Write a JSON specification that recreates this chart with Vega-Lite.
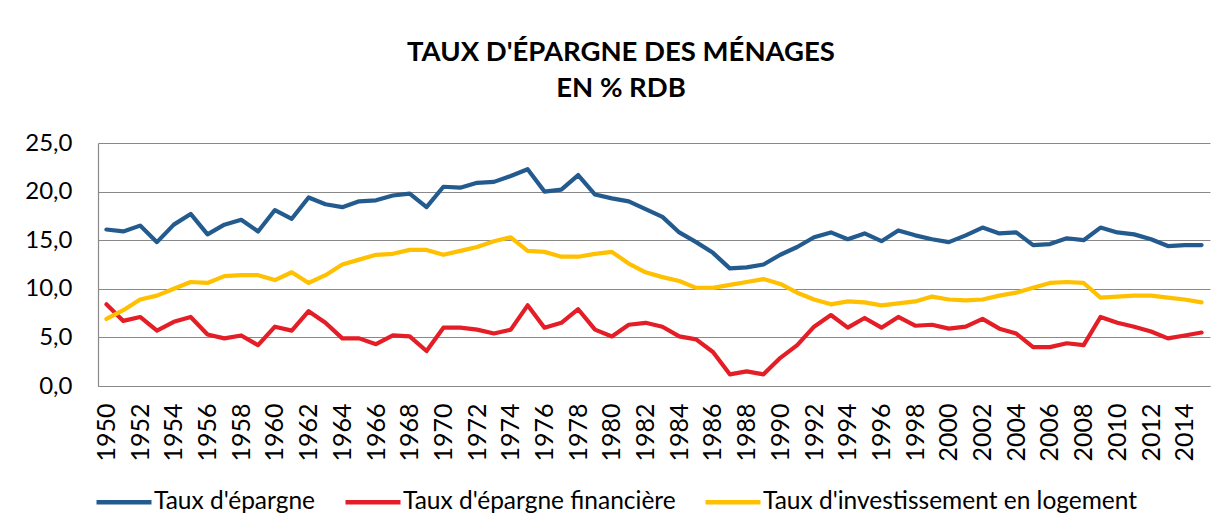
{
  "$schema": "https://vega.github.io/schema/vega-lite/v6.json",
  "width": 1112,
  "height": 243,
  "autosize": {"type": "none"},
  "padding": {"left": 98, "top": 143, "right": 18, "bottom": 144},
  "background": "white",
  "title": {
    "text": ["TAUX D'ÉPARGNE DES MÉNAGES", "EN % RDB"],
    "font": "Lato",
    "fontSize": 27.5,
    "fontWeight": "bold",
    "color": "#000000",
    "anchor": "middle",
    "frame": "group",
    "dx": -33,
    "lineHeight": 36.6,
    "offset": 28
  },
  "data": {
    "values": [
      {"annee": 1950, "serie": "Taux d'épargne", "taux": 16.1},
      {"annee": 1951, "serie": "Taux d'épargne", "taux": 15.9},
      {"annee": 1952, "serie": "Taux d'épargne", "taux": 16.5},
      {"annee": 1953, "serie": "Taux d'épargne", "taux": 14.8},
      {"annee": 1954, "serie": "Taux d'épargne", "taux": 16.6},
      {"annee": 1955, "serie": "Taux d'épargne", "taux": 17.7},
      {"annee": 1956, "serie": "Taux d'épargne", "taux": 15.6},
      {"annee": 1957, "serie": "Taux d'épargne", "taux": 16.6},
      {"annee": 1958, "serie": "Taux d'épargne", "taux": 17.1},
      {"annee": 1959, "serie": "Taux d'épargne", "taux": 15.9},
      {"annee": 1960, "serie": "Taux d'épargne", "taux": 18.1},
      {"annee": 1961, "serie": "Taux d'épargne", "taux": 17.2},
      {"annee": 1962, "serie": "Taux d'épargne", "taux": 19.4},
      {"annee": 1963, "serie": "Taux d'épargne", "taux": 18.7},
      {"annee": 1964, "serie": "Taux d'épargne", "taux": 18.4},
      {"annee": 1965, "serie": "Taux d'épargne", "taux": 19.0},
      {"annee": 1966, "serie": "Taux d'épargne", "taux": 19.1},
      {"annee": 1967, "serie": "Taux d'épargne", "taux": 19.6},
      {"annee": 1968, "serie": "Taux d'épargne", "taux": 19.8},
      {"annee": 1969, "serie": "Taux d'épargne", "taux": 18.4},
      {"annee": 1970, "serie": "Taux d'épargne", "taux": 20.5},
      {"annee": 1971, "serie": "Taux d'épargne", "taux": 20.4},
      {"annee": 1972, "serie": "Taux d'épargne", "taux": 20.9},
      {"annee": 1973, "serie": "Taux d'épargne", "taux": 21.0},
      {"annee": 1974, "serie": "Taux d'épargne", "taux": 21.6},
      {"annee": 1975, "serie": "Taux d'épargne", "taux": 22.3},
      {"annee": 1976, "serie": "Taux d'épargne", "taux": 20.0},
      {"annee": 1977, "serie": "Taux d'épargne", "taux": 20.2},
      {"annee": 1978, "serie": "Taux d'épargne", "taux": 21.7},
      {"annee": 1979, "serie": "Taux d'épargne", "taux": 19.7},
      {"annee": 1980, "serie": "Taux d'épargne", "taux": 19.3},
      {"annee": 1981, "serie": "Taux d'épargne", "taux": 19.0},
      {"annee": 1982, "serie": "Taux d'épargne", "taux": 18.2},
      {"annee": 1983, "serie": "Taux d'épargne", "taux": 17.4},
      {"annee": 1984, "serie": "Taux d'épargne", "taux": 15.8},
      {"annee": 1985, "serie": "Taux d'épargne", "taux": 14.8},
      {"annee": 1986, "serie": "Taux d'épargne", "taux": 13.7},
      {"annee": 1987, "serie": "Taux d'épargne", "taux": 12.1},
      {"annee": 1988, "serie": "Taux d'épargne", "taux": 12.2},
      {"annee": 1989, "serie": "Taux d'épargne", "taux": 12.5},
      {"annee": 1990, "serie": "Taux d'épargne", "taux": 13.5},
      {"annee": 1991, "serie": "Taux d'épargne", "taux": 14.3},
      {"annee": 1992, "serie": "Taux d'épargne", "taux": 15.3},
      {"annee": 1993, "serie": "Taux d'épargne", "taux": 15.8},
      {"annee": 1994, "serie": "Taux d'épargne", "taux": 15.1},
      {"annee": 1995, "serie": "Taux d'épargne", "taux": 15.7},
      {"annee": 1996, "serie": "Taux d'épargne", "taux": 14.9},
      {"annee": 1997, "serie": "Taux d'épargne", "taux": 16.0},
      {"annee": 1998, "serie": "Taux d'épargne", "taux": 15.5},
      {"annee": 1999, "serie": "Taux d'épargne", "taux": 15.1},
      {"annee": 2000, "serie": "Taux d'épargne", "taux": 14.8},
      {"annee": 2001, "serie": "Taux d'épargne", "taux": 15.5},
      {"annee": 2002, "serie": "Taux d'épargne", "taux": 16.3},
      {"annee": 2003, "serie": "Taux d'épargne", "taux": 15.7},
      {"annee": 2004, "serie": "Taux d'épargne", "taux": 15.8},
      {"annee": 2005, "serie": "Taux d'épargne", "taux": 14.5},
      {"annee": 2006, "serie": "Taux d'épargne", "taux": 14.6},
      {"annee": 2007, "serie": "Taux d'épargne", "taux": 15.2},
      {"annee": 2008, "serie": "Taux d'épargne", "taux": 15.0},
      {"annee": 2009, "serie": "Taux d'épargne", "taux": 16.3},
      {"annee": 2010, "serie": "Taux d'épargne", "taux": 15.8},
      {"annee": 2011, "serie": "Taux d'épargne", "taux": 15.6},
      {"annee": 2012, "serie": "Taux d'épargne", "taux": 15.1},
      {"annee": 2013, "serie": "Taux d'épargne", "taux": 14.4},
      {"annee": 2014, "serie": "Taux d'épargne", "taux": 14.5},
      {"annee": 2015, "serie": "Taux d'épargne", "taux": 14.5},
      {"annee": 1950, "serie": "Taux d'épargne financière", "taux": 8.4},
      {"annee": 1951, "serie": "Taux d'épargne financière", "taux": 6.7},
      {"annee": 1952, "serie": "Taux d'épargne financière", "taux": 7.1},
      {"annee": 1953, "serie": "Taux d'épargne financière", "taux": 5.7},
      {"annee": 1954, "serie": "Taux d'épargne financière", "taux": 6.6},
      {"annee": 1955, "serie": "Taux d'épargne financière", "taux": 7.1},
      {"annee": 1956, "serie": "Taux d'épargne financière", "taux": 5.3},
      {"annee": 1957, "serie": "Taux d'épargne financière", "taux": 4.9},
      {"annee": 1958, "serie": "Taux d'épargne financière", "taux": 5.2},
      {"annee": 1959, "serie": "Taux d'épargne financière", "taux": 4.2},
      {"annee": 1960, "serie": "Taux d'épargne financière", "taux": 6.1},
      {"annee": 1961, "serie": "Taux d'épargne financière", "taux": 5.7},
      {"annee": 1962, "serie": "Taux d'épargne financière", "taux": 7.7},
      {"annee": 1963, "serie": "Taux d'épargne financière", "taux": 6.5},
      {"annee": 1964, "serie": "Taux d'épargne financière", "taux": 4.9},
      {"annee": 1965, "serie": "Taux d'épargne financière", "taux": 4.9},
      {"annee": 1966, "serie": "Taux d'épargne financière", "taux": 4.3},
      {"annee": 1967, "serie": "Taux d'épargne financière", "taux": 5.2},
      {"annee": 1968, "serie": "Taux d'épargne financière", "taux": 5.1},
      {"annee": 1969, "serie": "Taux d'épargne financière", "taux": 3.6},
      {"annee": 1970, "serie": "Taux d'épargne financière", "taux": 6.0},
      {"annee": 1971, "serie": "Taux d'épargne financière", "taux": 6.0},
      {"annee": 1972, "serie": "Taux d'épargne financière", "taux": 5.8},
      {"annee": 1973, "serie": "Taux d'épargne financière", "taux": 5.4},
      {"annee": 1974, "serie": "Taux d'épargne financière", "taux": 5.8},
      {"annee": 1975, "serie": "Taux d'épargne financière", "taux": 8.3},
      {"annee": 1976, "serie": "Taux d'épargne financière", "taux": 6.0},
      {"annee": 1977, "serie": "Taux d'épargne financière", "taux": 6.5},
      {"annee": 1978, "serie": "Taux d'épargne financière", "taux": 7.9},
      {"annee": 1979, "serie": "Taux d'épargne financière", "taux": 5.8},
      {"annee": 1980, "serie": "Taux d'épargne financière", "taux": 5.1},
      {"annee": 1981, "serie": "Taux d'épargne financière", "taux": 6.3},
      {"annee": 1982, "serie": "Taux d'épargne financière", "taux": 6.5},
      {"annee": 1983, "serie": "Taux d'épargne financière", "taux": 6.1},
      {"annee": 1984, "serie": "Taux d'épargne financière", "taux": 5.1},
      {"annee": 1985, "serie": "Taux d'épargne financière", "taux": 4.8},
      {"annee": 1986, "serie": "Taux d'épargne financière", "taux": 3.5},
      {"annee": 1987, "serie": "Taux d'épargne financière", "taux": 1.2},
      {"annee": 1988, "serie": "Taux d'épargne financière", "taux": 1.5},
      {"annee": 1989, "serie": "Taux d'épargne financière", "taux": 1.2},
      {"annee": 1990, "serie": "Taux d'épargne financière", "taux": 2.9},
      {"annee": 1991, "serie": "Taux d'épargne financière", "taux": 4.2},
      {"annee": 1992, "serie": "Taux d'épargne financière", "taux": 6.1},
      {"annee": 1993, "serie": "Taux d'épargne financière", "taux": 7.3},
      {"annee": 1994, "serie": "Taux d'épargne financière", "taux": 6.0},
      {"annee": 1995, "serie": "Taux d'épargne financière", "taux": 7.0},
      {"annee": 1996, "serie": "Taux d'épargne financière", "taux": 6.0},
      {"annee": 1997, "serie": "Taux d'épargne financière", "taux": 7.1},
      {"annee": 1998, "serie": "Taux d'épargne financière", "taux": 6.2},
      {"annee": 1999, "serie": "Taux d'épargne financière", "taux": 6.3},
      {"annee": 2000, "serie": "Taux d'épargne financière", "taux": 5.9},
      {"annee": 2001, "serie": "Taux d'épargne financière", "taux": 6.1},
      {"annee": 2002, "serie": "Taux d'épargne financière", "taux": 6.9},
      {"annee": 2003, "serie": "Taux d'épargne financière", "taux": 5.9},
      {"annee": 2004, "serie": "Taux d'épargne financière", "taux": 5.4},
      {"annee": 2005, "serie": "Taux d'épargne financière", "taux": 4.0},
      {"annee": 2006, "serie": "Taux d'épargne financière", "taux": 4.0},
      {"annee": 2007, "serie": "Taux d'épargne financière", "taux": 4.4},
      {"annee": 2008, "serie": "Taux d'épargne financière", "taux": 4.2},
      {"annee": 2009, "serie": "Taux d'épargne financière", "taux": 7.1},
      {"annee": 2010, "serie": "Taux d'épargne financière", "taux": 6.5},
      {"annee": 2011, "serie": "Taux d'épargne financière", "taux": 6.1},
      {"annee": 2012, "serie": "Taux d'épargne financière", "taux": 5.6},
      {"annee": 2013, "serie": "Taux d'épargne financière", "taux": 4.9},
      {"annee": 2014, "serie": "Taux d'épargne financière", "taux": 5.2},
      {"annee": 2015, "serie": "Taux d'épargne financière", "taux": 5.5},
      {"annee": 1950, "serie": "Taux d'investissement en logement", "taux": 6.9},
      {"annee": 1951, "serie": "Taux d'investissement en logement", "taux": 7.8},
      {"annee": 1952, "serie": "Taux d'investissement en logement", "taux": 8.9},
      {"annee": 1953, "serie": "Taux d'investissement en logement", "taux": 9.3},
      {"annee": 1954, "serie": "Taux d'investissement en logement", "taux": 10.0},
      {"annee": 1955, "serie": "Taux d'investissement en logement", "taux": 10.7},
      {"annee": 1956, "serie": "Taux d'investissement en logement", "taux": 10.6},
      {"annee": 1957, "serie": "Taux d'investissement en logement", "taux": 11.3},
      {"annee": 1958, "serie": "Taux d'investissement en logement", "taux": 11.4},
      {"annee": 1959, "serie": "Taux d'investissement en logement", "taux": 11.4},
      {"annee": 1960, "serie": "Taux d'investissement en logement", "taux": 10.9},
      {"annee": 1961, "serie": "Taux d'investissement en logement", "taux": 11.7},
      {"annee": 1962, "serie": "Taux d'investissement en logement", "taux": 10.6},
      {"annee": 1963, "serie": "Taux d'investissement en logement", "taux": 11.4},
      {"annee": 1964, "serie": "Taux d'investissement en logement", "taux": 12.5},
      {"annee": 1965, "serie": "Taux d'investissement en logement", "taux": 13.0},
      {"annee": 1966, "serie": "Taux d'investissement en logement", "taux": 13.5},
      {"annee": 1967, "serie": "Taux d'investissement en logement", "taux": 13.6},
      {"annee": 1968, "serie": "Taux d'investissement en logement", "taux": 14.0},
      {"annee": 1969, "serie": "Taux d'investissement en logement", "taux": 14.0},
      {"annee": 1970, "serie": "Taux d'investissement en logement", "taux": 13.5},
      {"annee": 1971, "serie": "Taux d'investissement en logement", "taux": 13.9},
      {"annee": 1972, "serie": "Taux d'investissement en logement", "taux": 14.3},
      {"annee": 1973, "serie": "Taux d'investissement en logement", "taux": 14.9},
      {"annee": 1974, "serie": "Taux d'investissement en logement", "taux": 15.3},
      {"annee": 1975, "serie": "Taux d'investissement en logement", "taux": 13.9},
      {"annee": 1976, "serie": "Taux d'investissement en logement", "taux": 13.8},
      {"annee": 1977, "serie": "Taux d'investissement en logement", "taux": 13.3},
      {"annee": 1978, "serie": "Taux d'investissement en logement", "taux": 13.3},
      {"annee": 1979, "serie": "Taux d'investissement en logement", "taux": 13.6},
      {"annee": 1980, "serie": "Taux d'investissement en logement", "taux": 13.8},
      {"annee": 1981, "serie": "Taux d'investissement en logement", "taux": 12.6},
      {"annee": 1982, "serie": "Taux d'investissement en logement", "taux": 11.7},
      {"annee": 1983, "serie": "Taux d'investissement en logement", "taux": 11.2},
      {"annee": 1984, "serie": "Taux d'investissement en logement", "taux": 10.8},
      {"annee": 1985, "serie": "Taux d'investissement en logement", "taux": 10.1},
      {"annee": 1986, "serie": "Taux d'investissement en logement", "taux": 10.1},
      {"annee": 1987, "serie": "Taux d'investissement en logement", "taux": 10.4},
      {"annee": 1988, "serie": "Taux d'investissement en logement", "taux": 10.7},
      {"annee": 1989, "serie": "Taux d'investissement en logement", "taux": 11.0},
      {"annee": 1990, "serie": "Taux d'investissement en logement", "taux": 10.5},
      {"annee": 1991, "serie": "Taux d'investissement en logement", "taux": 9.6},
      {"annee": 1992, "serie": "Taux d'investissement en logement", "taux": 8.9},
      {"annee": 1993, "serie": "Taux d'investissement en logement", "taux": 8.4},
      {"annee": 1994, "serie": "Taux d'investissement en logement", "taux": 8.7},
      {"annee": 1995, "serie": "Taux d'investissement en logement", "taux": 8.6},
      {"annee": 1996, "serie": "Taux d'investissement en logement", "taux": 8.3},
      {"annee": 1997, "serie": "Taux d'investissement en logement", "taux": 8.5},
      {"annee": 1998, "serie": "Taux d'investissement en logement", "taux": 8.7},
      {"annee": 1999, "serie": "Taux d'investissement en logement", "taux": 9.2},
      {"annee": 2000, "serie": "Taux d'investissement en logement", "taux": 8.9},
      {"annee": 2001, "serie": "Taux d'investissement en logement", "taux": 8.8},
      {"annee": 2002, "serie": "Taux d'investissement en logement", "taux": 8.9},
      {"annee": 2003, "serie": "Taux d'investissement en logement", "taux": 9.3},
      {"annee": 2004, "serie": "Taux d'investissement en logement", "taux": 9.6},
      {"annee": 2005, "serie": "Taux d'investissement en logement", "taux": 10.1},
      {"annee": 2006, "serie": "Taux d'investissement en logement", "taux": 10.6},
      {"annee": 2007, "serie": "Taux d'investissement en logement", "taux": 10.7},
      {"annee": 2008, "serie": "Taux d'investissement en logement", "taux": 10.6},
      {"annee": 2009, "serie": "Taux d'investissement en logement", "taux": 9.1},
      {"annee": 2010, "serie": "Taux d'investissement en logement", "taux": 9.2},
      {"annee": 2011, "serie": "Taux d'investissement en logement", "taux": 9.3},
      {"annee": 2012, "serie": "Taux d'investissement en logement", "taux": 9.3},
      {"annee": 2013, "serie": "Taux d'investissement en logement", "taux": 9.1},
      {"annee": 2014, "serie": "Taux d'investissement en logement", "taux": 8.9},
      {"annee": 2015, "serie": "Taux d'investissement en logement", "taux": 8.6}
    ]
  },
  "mark": {"type": "line", "strokeWidth": 4.2, "strokeCap": "round", "strokeJoin": "round"},
  "encoding": {
    "x": {
      "field": "annee",
      "type": "quantitative",
      "scale": {"domain": [1949.5, 2015.5], "nice": false, "zero": false},
      "axis": {
        "title": null,
        "values": [1950, 1952, 1954, 1956, 1958, 1960, 1962, 1964, 1966, 1968, 1970, 1972, 1974, 1976, 1978, 1980, 1982, 1984, 1986, 1988, 1990, 1992, 1994, 1996, 1998, 2000, 2002, 2004, 2006, 2008, 2010, 2012, 2014],
        "format": "d",
        "labelAngle": -90,
        "labelPadding": 17,
        "labelFont": "Lato",
        "labelFontSize": 25,
        "labelColor": "#000000",
        "labelFlush": false,
        "labelOverlap": false,
        "ticks": false,
        "grid": false,
        "domainColor": "#898989",
        "domainWidth": 1.2
      }
    },
    "y": {
      "field": "taux",
      "type": "quantitative",
      "scale": {"domain": [0, 25], "nice": false},
      "axis": {
        "title": null,
        "values": [0, 5, 10, 15, 20, 25],
        "labelExpr": "replace(format(datum.value, '.1f'), '.', ',')",
        "labelPadding": 26,
        "labelFont": "Lato",
        "labelFontSize": 24,
        "labelColor": "#000000",
        "ticks": false,
        "grid": true,
        "gridColor": "#898989",
        "gridWidth": 1.2,
        "domainColor": "#898989",
        "domainWidth": 1.2
      }
    },
    "color": {
      "field": "serie",
      "type": "nominal",
      "scale": {
        "domain": ["Taux d'épargne", "Taux d'épargne financière", "Taux d'investissement en logement"],
        "range": ["#245b8f", "#e41e26", "#ffc000"]
      },
      "legend": {
        "title": null,
        "orient": "none",
        "direction": "horizontal",
        "legendX": -4,
        "legendY": 329,
        "symbolType": "stroke",
        "symbolSize": 3025,
        "symbolStrokeWidth": 4.5,
        "labelFont": "Lato",
        "labelFontSize": 24.5,
        "labelColor": "#000000",
        "labelOffset": 0,
        "columnPadding": 20,
        "labelLimit": 0
      }
    }
  },
  "config": {"view": {"stroke": null}}
}
